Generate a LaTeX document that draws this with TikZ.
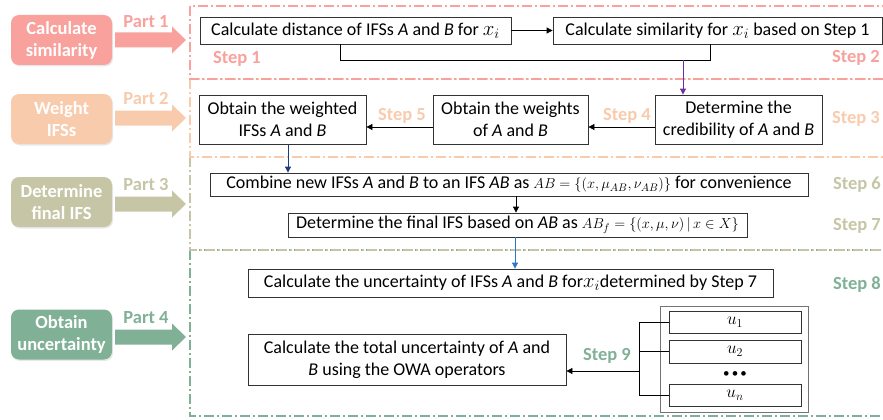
\documentclass[tikz,border=0pt]{standalone}
\usepackage{fontspec}
\setmainfont{Carlito}
\usetikzlibrary{arrows.meta,shadows}
\definecolor{cA}{HTML}{F9A19C}
\definecolor{cB}{HTML}{F8CBAD}
\definecolor{cC}{HTML}{C6C6A6}
\definecolor{cD}{HTML}{80B197}
\definecolor{cPurple}{HTML}{7030A0}
\definecolor{cNavy}{HTML}{1F3A80}
\definecolor{cBlue}{HTML}{2E75C6}
\newcommand\partarrow[2]{\fill[#2] (115,#1-7.5) -- (172,#1-7.5) -- (172,#1-13.5) -- (186,#1) -- (172,#1+13.5) -- (172,#1+7.5) -- (115,#1+7.5) -- cycle;}
\newcommand\msz{\fontsize{15}{18}\selectfont}
\begin{document}
\begin{tikzpicture}[x=1pt,y=-1pt,
  box/.style={draw=black!80, line width=0.8pt, fill=white, inner sep=0pt, align=center, font=\fontsize{18}{22}\selectfont},
  partbox/.style={rounded corners=8pt, text=white, align=center, font=\bfseries\fontsize{18.5}{22}\selectfont, minimum width=101pt, minimum height=50pt, inner sep=0pt, drop shadow={opacity=0.18, shadow xshift=1pt, shadow yshift=-1.5pt}},
  steplab/.style={font=\bfseries\fontsize{18.5}{22}\selectfont, inner sep=0pt},
  region/.style={line width=1.3pt, dash pattern=on 10pt off 3pt on 2pt off 3pt},
  arr/.style={-{Triangle[length=6pt,width=6pt]}, line width=0.8pt},
]
\useasboundingbox (0,0) rectangle (883,420);
\begin{scope}
\clip (0,0) rectangle (883,420);
\draw[region,draw=cD] (190,250) rectangle (900,416);
\draw[region,draw=cC] (190,157) rectangle (900,250);
\draw[region,draw=cB] (190,79) rectangle (900,157);
\draw[region,draw=cA] (190,6) rectangle (900,79);
\end{scope}

% left part boxes
\node[partbox, fill=cA] (p1) at (61.5,40) {Calculate\\similarity};
\node[partbox, fill=cB] (p2) at (61.5,119) {Weight\\IFSs};
\node[partbox, fill=cC] (p3) at (61.5,202) {Determine\\final IFS};
\node[partbox, fill=cD] (p4) at (61.5,334.5) {Obtain\\uncertainty};
\partarrow{40}{cA}
\partarrow{118}{cB}
\partarrow{204}{cC}
\partarrow{337}{cD}
\node[steplab, text=cA] (l1) at (146,22) {Part 1};
\node[steplab, text=cB] (l2) at (146,99) {Part 2};
\node[steplab, text=cC] (l3) at (146,185) {Part 3};
\node[steplab, text=cD] (l4) at (146,318) {Part 4};

% step boxes
\node[box, minimum width=311pt, minimum height=27pt] (s1) at (355.5,30.5) {Calculate distance of IFSs \textit{A} and \textit{B} for {\fontsize{20}{22}\selectfont$x_i$}};
\node[box, minimum width=329pt, minimum height=27pt] (s2) at (717.5,30.5) {Calculate similarity for {\fontsize{20}{22}\selectfont$x_i$} based on Step 1};
\node[box, minimum width=167pt, minimum height=49pt] (s3) at (738.5,119.5) {Determine the\\credibility of \textit{A} and \textit{B}};
\node[box, minimum width=155pt, minimum height=49pt] (s4) at (510.5,119.5) {Obtain the weights\\of \textit{A} and \textit{B}};
\node[box, minimum width=167pt, minimum height=49pt] (s5) at (282.5,119.5) {Obtain the weighted\\IFSs \textit{A} and \textit{B}};
\node[box, minimum width=598pt, minimum height=23pt] (s6) at (509,184.5) {Combine new IFSs \textit{A} and \textit{B} to an IFS \textit{AB} as {\msz$AB=\{(x,\mu_{AB},\nu_{AB})\}$} for convenience};
\node[box, minimum width=459pt, minimum height=24pt] (s7) at (517.5,225) {Determine the final IFS based on \textit{AB} as {\msz$AB_f=\{(x,\mu,\nu)\,|\,x\in X\}$}};
\node[box, minimum width=525pt, minimum height=28pt] (s8) at (510.5,283) {Calculate the uncertainty of IFSs \textit{A} and \textit{B} for{\fontsize{20}{22}\selectfont$x_i$}determined by Step 7};
\node[box, minimum width=318pt, minimum height=51pt] (s9) at (407,359.5) {Calculate the total uncertainty of \textit{A} and\\\textit{B} using the OWA operators};
\node[draw=black!55, line width=0.8pt, minimum width=148pt, minimum height=106pt, inner sep=0pt] (ub) at (734,359) {};
\node[box, minimum width=132pt, minimum height=22pt] (u1) at (735,322) {$u_1$};
\node[box, minimum width=132pt, minimum height=23pt] (u2) at (735,351.5) {$u_2$};
\node[inner sep=0pt, font=\fontsize{13}{13}\selectfont] (dots) at (735,375) {\textbullet\,\textbullet\,\textbullet};
\node[box, minimum width=132pt, minimum height=22pt] (un) at (735,395) {$u_n$};

% step labels
\node[steplab, text=cA] (t1) at (237,59) {Step 1};
\node[steplab, text=cA] (t2) at (856,58) {Step 2};
\node[steplab, text=cB] (t3) at (856,119) {Step 3};
\node[steplab, text=cB] (t4) at (627,116) {Step 4};
\node[steplab, text=cB] (t5) at (402,116) {Step 5};
\node[steplab, text=cC] (t6) at (857,185) {Step 6};
\node[steplab, text=cC] (t7) at (857,226) {Step 7};
\node[steplab, text=cD] (t8) at (857,285) {Step 8};
\node[steplab, text=cD] (t9) at (607,356) {Step 9};

% connectors
\coordinate (jl) at (340,60);
\coordinate (jr) at (710,60);
\coordinate (jm) at (683,60);
\coordinate (ya) at (0,127);
\coordinate (xa) at (288,0);
\coordinate (xb) at (516,0);
\coordinate (xc) at (515,0);
\coordinate (br) at (639,371);
\draw[arr] (s1) -- (s2);
\draw[line width=0.8pt] (s1.south -| jl) -- (jl) -- (jr) -- (s2.south -| jr);
\draw[arr, draw=cPurple] (jm) -- (s3.north -| jm);
\draw[arr] (s3.west |- ya) -- (s4.east |- ya);
\draw[arr] (s4.west |- ya) -- (s5.east |- ya);
\draw[arr, draw=cNavy] (s5.south -| xa) -- (s6.north -| xa);
\draw[arr] (s6.south -| xb) -- (s7.north -| xb);
\draw[arr, draw=cBlue] (s7.south -| xc) -- (s8.north -| xc);
\draw[line width=0.8pt] (u1.west) -- (br |- u1.west) -- (br |- un.west) -- (un.west);
\draw[line width=0.8pt] (u2.west) -- (br |- u2.west);
\draw[arr] (br) -- (s9.east |- br);
\end{tikzpicture}
\end{document}
